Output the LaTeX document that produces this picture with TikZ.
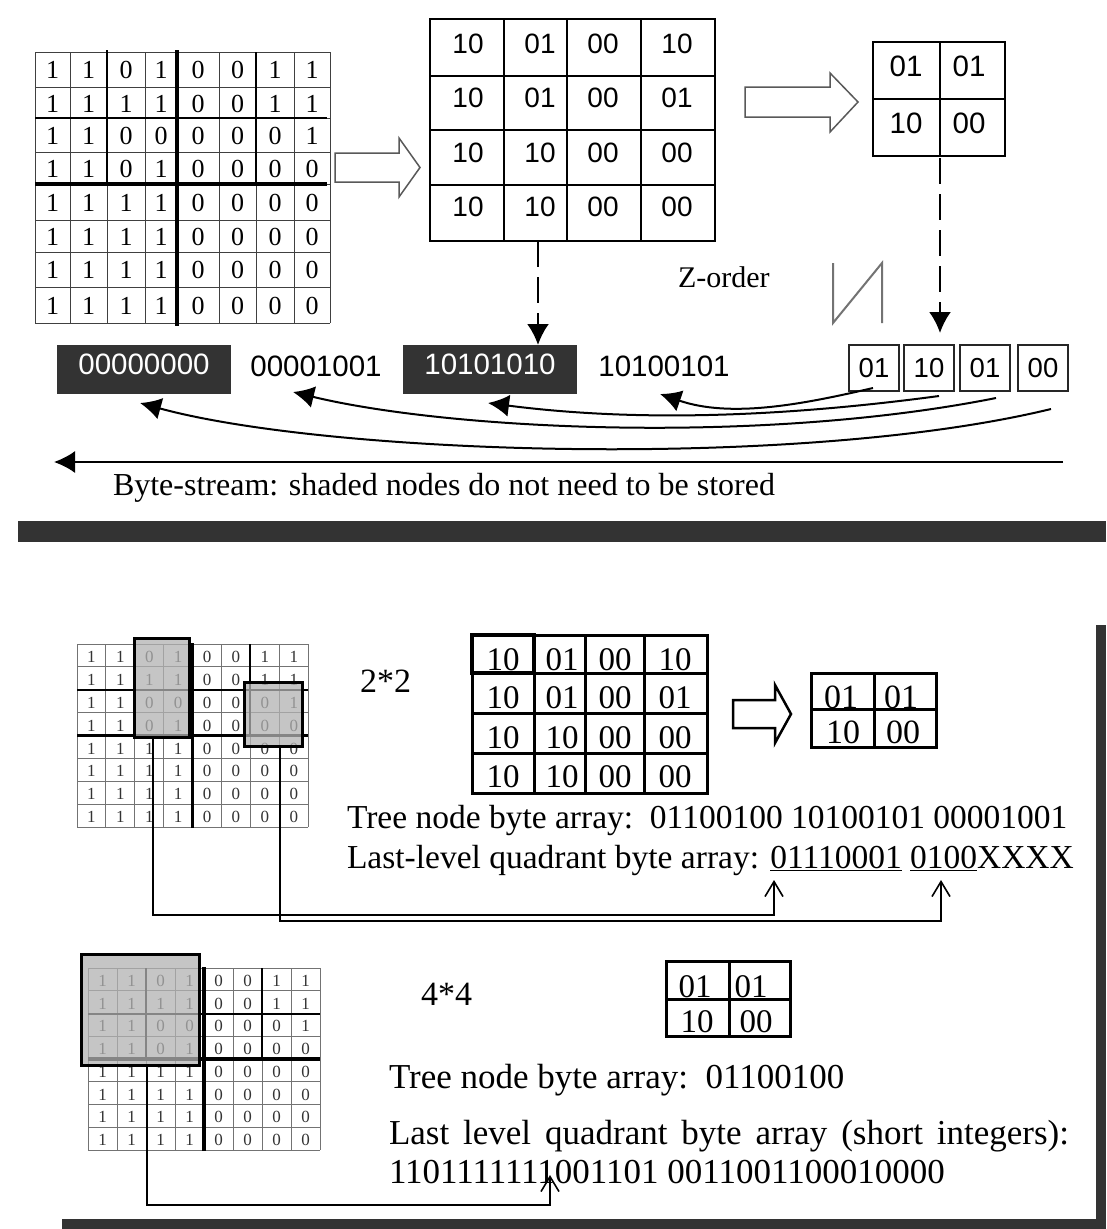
\documentclass[tikz,border=0pt]{standalone}
\usepackage{fontspec}
\setmainfont{Liberation Serif}
\newfontfamily\sansf{Liberation Sans}
\usetikzlibrary{arrows.meta}
\definecolor{darkbar}{HTML}{333333}
\newcommand\bitgrid[5]{%
  \foreach \i in {0,...,8}{
    \draw[lgridline] ({#1+\i*#3},#2) -- ({#1+\i*#3},{#2+8*#4});
    \draw[lgridline] (#1,{#2+\i*#4}) -- ({#1+8*#3},{#2+\i*#4});
  }
  \foreach \row [count=\r] in {{1,1,0,1,0,0,1,1},{1,1,1,1,0,0,1,1},{1,1,0,0,0,0,0,1},{1,1,0,1,0,0,0,0},{1,1,1,1,0,0,0,0},{1,1,1,1,0,0,0,0},{1,1,1,1,0,0,0,0},{1,1,1,1,0,0,0,0}}{
    \foreach \bit [count=\c] in \row {
      \node[rmtxt=17, text=black!80, anchor=base] (#5-\r-\c) at ({#1+(\c-0.5)*#3},{#2+(\r-0.5)*#4+7}) {\bit};
    }
  }
  \draw[line width=3.5pt] ({#1+4*#3},{#2-1}) -- ({#1+4*#3},{#2+8*#4+1});
  \draw[line width=3.5pt] (#1,{#2+4*#4}) -- ({#1+8*#3},{#2+4*#4});
  \draw[line width=2pt] ({#1+2*#3},#2) -- ({#1+2*#3},{#2+4*#4});
  \draw[line width=2pt] ({#1+6*#3},#2) -- ({#1+6*#3},{#2+4*#4});
  \draw[line width=2pt] (#1,{#2+2*#4}) -- ({#1+8*#3},{#2+2*#4});
}
\begin{document}
\begin{tikzpicture}[x=1pt,y=-1pt,
  rmtxt/.style={inner sep=0pt, outer sep=0pt, font=\fontsize{#1}{#1}\selectfont},
  sftxt/.style={inner sep=0pt, outer sep=0pt, font=\sansf\fontsize{#1}{#1}\selectfont},
  gridline/.style={draw=black!75, line width=1pt},
  lgridline/.style={draw=black!55, line width=1pt},
  frame/.style={draw, inner sep=0pt, outer sep=0pt, anchor=north west},
  darkbox/.style={fill=darkbar, inner sep=0pt, outer sep=0pt, minimum width=174pt, minimum height=49pt, text=white, text depth=10pt, font=\sansf\fontsize{29.5}{29.5}\selectfont},
  qbox/.style={draw=black!85, line width=1.5pt, inner sep=0pt, outer sep=0pt, minimum width=50pt, minimum height=46pt, font=\sansf\fontsize{27.5}{27.5}\selectfont},
  hollow/.style={draw=black!65, line width=1.5pt, fill=white},
  bigarrow/.style={-{Latex[length=21pt,width=22pt]}, line width=2pt},
  dasharrow/.style={-{Latex[length=21pt,width=22pt]}, line width=2.5pt, dash pattern=on 26pt off 10pt},
  conn/.style={-{Straight Barb[length=15pt,width=18pt,line width=1.6pt]}, line width=2.5pt},
  hlbox/.style={draw, line width=3pt, fill=black!30, fill opacity=0.75, inner sep=0pt, outer sep=0pt, anchor=north west}
]
\useasboundingbox (0,0) rectangle (1106,1229);
\fill[white] (0,0) rectangle (1106,1229);

%================ TOP SECTION ================
% top-left 8x8 grid
\foreach \xx in {35,70,107,145,177,219,256,294,330}
  \draw[gridline] (\xx,52) -- (\xx,323);
\foreach \yy in {52,87,118,152,184,220,252,287,323}
  \draw[gridline] (35,\yy) -- (330,\yy);
\foreach \yb/\row [count=\r] in {78/{1,1,0,1,0,0,1,1},112/{1,1,1,1,0,0,1,1},144/{1,1,0,0,0,0,0,1},177/{1,1,0,1,0,0,0,0},211/{1,1,1,1,0,0,0,0},245/{1,1,1,1,0,0,0,0},278/{1,1,1,1,0,0,0,0},314/{1,1,1,1,0,0,0,0}}{
  \foreach \bit [count=\c] in \row {
    \pgfmathsetmacro\xpos{\c==1 ? 52.5 : (\c==2 ? 88.5 : (\c==3 ? 126 : (\c==4 ? 161 : (\c==5 ? 198 : (\c==6 ? 237.5 : (\c==7 ? 275 : 312))))))}
    \node[rmtxt=26, anchor=base] (ta-\r-\c) at (\xpos,\yb) {\bit};
  }
}
\draw[line width=4pt] (177,50) -- (177,326);
\draw[line width=4pt] (35,184) -- (327,184);
\draw[line width=2pt] (107,50) -- (107,184);
\draw[line width=2pt] (256,52) -- (256,184);
\draw[line width=2pt] (35,118) -- (327,118);

% hollow arrow 1
\draw[hollow] (335,153) -- (399,153) -- (399,138) -- (420,167.5) -- (399,197) -- (399,182) -- (335,182) -- cycle;

% middle 4x4 grid
\node[frame, line width=1.5pt, minimum width=285pt, minimum height=222pt] (mgrid) at (430,19) {};
\foreach \xx in {504,567,641} \draw[line width=1.5pt] (\xx,19) -- (\xx,241);
\foreach \yy in {76,130,185} \draw[line width=1.5pt] (430,\yy) -- (715,\yy);
\draw[line width=2.5pt] (430,19) rectangle (504,76);
\foreach \yb/\pa/\pb/\pc/\pd [count=\r] in {53/10/01/00/10, 107/10/01/00/01, 162/10/10/00/00, 216/10/10/00/00}{
  \node[sftxt=28, anchor=base] (mg-\r-1) at (468,\yb) {\pa};
  \node[sftxt=28, anchor=base] (mg-\r-2) at (540,\yb) {\pb};
  \node[sftxt=28, anchor=base] (mg-\r-3) at (603,\yb) {\pc};
  \node[sftxt=28, anchor=base] (mg-\r-4) at (677,\yb) {\pd};
}

% hollow arrow 2
\draw[hollow] (745,87) -- (830,87) -- (830,73) -- (858,102) -- (830,132) -- (830,117) -- (745,117) -- cycle;

% small 2x2 grid
\node[frame, line width=1.5pt, minimum width=132pt, minimum height=114pt] (sgrid) at (873,42) {};
\draw[line width=1.5pt] (940,42) -- (940,156);
\draw[line width=1.5pt] (873,99) -- (1005,99);
\draw[line width=2.5pt] (873,42) rectangle (940,99);
\node[sftxt=29.5, anchor=base] (sg-1-1) at (906,76) {01};
\node[sftxt=29.5, anchor=base] (sg-1-2) at (969,76) {01};
\node[sftxt=29.5, anchor=base] (sg-2-1) at (906,133) {10};
\node[sftxt=29.5, anchor=base] (sg-2-2) at (969,133) {00};

% Z-order
\node[rmtxt=30, anchor=base west] (zord) at (678,287) {Z-order};
\draw[black!55, line width=2pt] (833,263) -- (833,323) -- (882,263) -- (882,323);

% byte stream nodes
\node[darkbox, anchor=north west] (box1) at (57,345) {00000000};
\node[sftxt=29.5, anchor=base] (s2) at (316,376) {00001001};
\node[darkbox, anchor=north west] (box2) at (403,345) {10101010};
\node[sftxt=29.5, anchor=base] (s4) at (664,376) {10100101};

\node[qbox] (qa) at (874,368) {01};
\node[qbox] (qb) at (929,368) {10};
\node[qbox] (qc) at (985,368) {01};
\node[qbox] (qd) at (1043,368) {00};

% dashed arrows
\coordinate (mg-out) at (538,241);
\draw[dasharrow] (mg-out) -- (mg-out |- box2.north);
\coordinate (sg-out) at (940,158);
\coordinate (qb-in) at (940,333);
\draw[dasharrow] (sg-out) -- (qb-in);

% curved arrows
\coordinate (qa-o) at (873,388);
\coordinate (qb-o) at (939,396);
\coordinate (qc-o) at (996,398);
\coordinate (qd-o) at (1051,409);
\coordinate (s4-i) at (660,394);
\coordinate (box2-i) at (488,403);
\coordinate (s2-i) at (293,392);
\coordinate (box1-i) at (140,403);
\draw[bigarrow] (qa-o) .. controls (800,405) and (730,418) .. (s4-i);
\draw[bigarrow] (qb-o) .. controls (760,420) and (620,420) .. (box2-i);
\draw[bigarrow] (qc-o) .. controls (760,445) and (450,430) .. (s2-i);
\draw[bigarrow] (qd-o) .. controls (800,470) and (330,455) .. (box1-i);

\coordinate (bs-r) at (1063,462);
\coordinate (bs-l) at (54,462);
\draw[bigarrow] (bs-r) -- (bs-l);
\node[rmtxt=32, anchor=base west] (bstxt) at (113,495) {Byte-stream: shaded nodes do not need to be stored};

% separator bars
\fill[darkbar] (18,521) rectangle (1106,542);
\fill[darkbar] (1096,625) rectangle (1106,1229);
\fill[darkbar] (62,1219) rectangle (1106,1229);

%================ 2*2 SECTION ================
\bitgrid{77}{644}{28.9}{22.9}{lg}
\node[hlbox, minimum width=55pt, minimum height=99pt] (hl1) at (134,638) {};
\node[hlbox, minimum width=58pt, minimum height=64pt] (hl2) at (244,682) {};

\node[rmtxt=34, anchor=base west] (t22) at (360,692) {2*2};

\node[frame, line width=3pt, minimum width=235pt, minimum height=158pt] (lmgrid) at (472,635) {};
\foreach \xx in {534,585,644} \draw[line width=3pt] (\xx,635) -- (\xx,793);
\foreach \yy in {673,713,753} \draw[line width=3pt] (472,\yy) -- (707,\yy);
\draw[line width=4pt] (472,635) rectangle (534,673);
\foreach \yb/\pa/\pb/\pc/\pd [count=\r] in {670/10/01/00/10, 708/10/01/00/01, 748/10/10/00/00, 787/10/10/00/00}{
  \node[rmtxt=33, anchor=base] (lm-\r-1) at (503,\yb) {\pa};
  \node[rmtxt=33, anchor=base] (lm-\r-2) at (562,\yb) {\pb};
  \node[rmtxt=33, anchor=base] (lm-\r-3) at (615,\yb) {\pc};
  \node[rmtxt=33, anchor=base] (lm-\r-4) at (675,\yb) {\pd};
}

\draw[draw=black, line width=2.5pt, fill=white] (733,700) -- (775,700) -- (775,685) -- (791,714) -- (775,743) -- (775,728) -- (733,728) -- cycle;

\node[rmtxt=34, anchor=base] (ls-1-1) at (841,708) {01};
\node[rmtxt=34, anchor=base] (ls-1-2) at (901,708) {01};
\node[rmtxt=34, anchor=base] (ls-2-1) at (843,743) {10};
\node[rmtxt=34, anchor=base] (ls-2-2) at (903,743) {00};
\node[frame, line width=3pt, minimum width=125pt, minimum height=74pt] (lsgrid) at (811,673) {};
\draw[line width=3pt] (874,673) -- (874,747);
\draw[line width=3pt] (811,709) -- (936,709);

\node[rmtxt=33.5, anchor=base west] (tn1) at (347,828) {Tree node byte array:\ \ 01100100 10100101 00001001};
\node[rmtxt=33.5, anchor=base west] (ll1) at (347,868) {Last-level quadrant byte array: \underline{01110001} \underline{0100}XXXX};

\coordinate (hl1-o) at (153,737);
\coordinate (k1) at (774,915);
\coordinate (ar1) at (774,880);
\draw[conn] (hl1-o) |- (k1) -- (ar1);
\coordinate (hl2-o) at (280,746);
\coordinate (k2) at (941,921);
\coordinate (ar2) at (941,880);
\draw[conn, line width=1.5pt] (hl2-o) |- (k2) -- (ar2);

%================ 4*4 SECTION ================
\bitgrid{88}{968}{29}{22.75}{lh}
\node[hlbox, minimum width=118pt, minimum height=111pt] (hl3) at (81,954) {};

\node[rmtxt=34, anchor=base west] (t44) at (421,1005) {4*4};

\node[rmtxt=33, anchor=base] (lt-1-1) at (695,997) {01};
\node[rmtxt=33, anchor=base] (lt-1-2) at (751,997) {01};
\node[rmtxt=33, anchor=base] (lt-2-1) at (697,1032) {10};
\node[rmtxt=33, anchor=base] (lt-2-2) at (756,1032) {00};
\node[frame, line width=3pt, minimum width=124pt, minimum height=75pt] (ltgrid) at (666,961) {};
\draw[line width=3pt] (729,961) -- (729,1036);
\draw[line width=3pt] (666,999) -- (790,999);

\node[rmtxt=35, anchor=base west] (tn2) at (389,1088) {Tree node byte array:\ \ 01100100};
\node[rmtxt=35, anchor=base west] (ll2) at (389,1144) {\makebox[680pt][s]{Last level quadrant byte array (short integers):}};
\node[rmtxt=35, anchor=base west] (bits2) at (389,1183) {1101111111001101 0011001100010000};

\coordinate (hl3-o) at (147,1065);
\coordinate (k3) at (550,1205);
\coordinate (ar3) at (550,1175);
\draw[conn] (hl3-o) |- (k3) -- (ar3);
\end{tikzpicture}
\end{document}
